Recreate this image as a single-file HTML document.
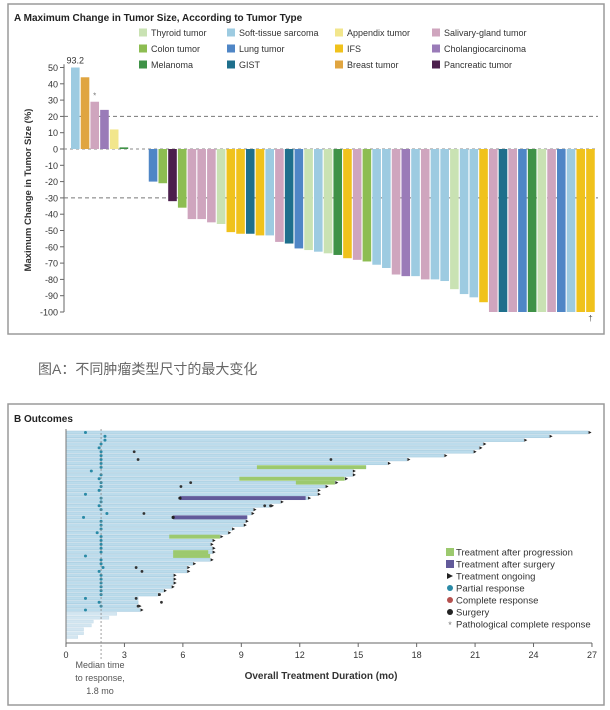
<!DOCTYPE html>
<html><head><meta charset="utf-8">
<style>
html,body{margin:0;padding:0;background:#fff;}
body{width:610px;height:710px;overflow:hidden;font-family:"Liberation Sans","Noto Sans CJK SC",sans-serif;}
svg{display:block;}
</style></head>
<body>
<svg id="chart" width="610" height="710" xmlns="http://www.w3.org/2000/svg" font-family="Liberation Sans, Noto Sans CJK SC, sans-serif">
  <rect x="8" y="4" width="596" height="330" fill="#fff" stroke="#9a9a9a" stroke-width="1.5"/>
  <text x="14" y="21" font-size="10" font-weight="bold" fill="#222">A  Maximum Change in Tumor Size, According to Tumor Type</text>
  <text transform="translate(31,190) rotate(-90)" text-anchor="middle" font-size="9.5" font-weight="bold" fill="#333">Maximum Change in Tumor Size (%)</text>
  <g id="gA"></g>
  <g id="legA"></g>
  <text x="38" y="374" font-size="14" fill="#666">图A：不同肿瘤类型尺寸的最大变化</text>
  <rect x="8" y="404" width="596" height="301" fill="#fff" stroke="#9a9a9a" stroke-width="1.5"/>
  <text x="14" y="422" font-size="10" font-weight="bold" fill="#222">B  Outcomes</text>
  <g id="gB"></g>
  <g id="legB"></g>
  <text x="321" y="679" text-anchor="middle" font-size="10" font-weight="bold" fill="#333">Overall Treatment Duration (mo)</text>
  <text x="100" y="668" text-anchor="middle" font-size="9" fill="#555"><tspan x="100">Median time</tspan><tspan x="100" dy="13">to response,</tspan><tspan x="100" dy="13">1.8 mo</tspan></text>
</svg>
<script>
// ---------- Panel A data ----------
const tumorTypes = ["thyroid","colon","melanoma","soft","lung","gist","appendix","ifs","breast","salivary","cholangio","pancreatic"];
const tumorLabels = ["Thyroid tumor","Colon tumor","Melanoma","Soft-tissue sarcoma","Lung tumor","GIST","Appendix tumor","IFS","Breast tumor","Salivary-gland tumor","Cholangiocarcinoma","Pancreatic tumor"];
const tumorColors = ["#c9e2b3","#8dbd52","#3f9247","#9dcbe1","#4f86c6","#1e6f8c","#f2e68c","#f0c21c","#e0a540","#cfa5be","#9a7bb8","#4b1f4c"];
const barTypes = ["soft","breast","salivary","cholangio","appendix","melanoma","thyroid","thyroid",
 "lung","colon","pancreatic","colon","salivary","salivary","salivary","thyroid","ifs","ifs","gist","ifs","soft","salivary","gist","lung","thyroid","soft","thyroid","melanoma","ifs","salivary","colon","soft","soft","salivary","cholangio","soft","salivary","soft","soft","thyroid","soft","soft","ifs","salivary","gist","salivary","lung","melanoma","thyroid","salivary","lung","soft","ifs","ifs"];
const barValues = [93.2,44,29,24,12,1,0,0,
 -20,-21,-32,-36,-43,-43,-45,-46,-51,-52,-52,-53,-53,-57,-58,-61,-62,-63,-64,-65,-67,-68,-69,-71,-73,-77,-78,-78,-80,-80,-81,-86,-89,-91,-94,-100,-100,-100,-100,-100,-100,-100,-100,-100,-100,-100];
const yTicks = [50,40,30,20,10,0,-10,-20,-30,-40,-50,-60,-70,-80,-90,-100];
const thresholds = [20,-30];

// ---------- Panel B data ----------
const durations = [26.8,24.8,23.5,21.4,21.2,20.9,19.4,17.5,16.5,15.4,14.7,14.7,14.3,13.8,13.3,12.9,12.9,12.4,11.0,10.5,9.6,9.5,9.3,9.2,9.1,8.5,8.3,7.9,7.5,7.4,7.5,7.5,7.3,7.4,6.5,6.2,6.2,5.5,5.5,5.5,5.4,5.0,4.7,3.7,3.7,3.7,3.8,2.6,2.2,1.4,1.3,0.9,0.9,0.6];
const responseTimes = [1.0,2.0,2.0,1.8,1.7,1.8,1.8,1.8,1.8,1.8,1.3,1.8,1.7,1.8,1.8,1.7,1.0,1.8,1.8,1.7,1.8,2.1,0.9,1.8,1.8,1.8,1.6,1.8,1.8,1.8,1.8,1.8,1.0,1.8,1.8,1.9,1.7,1.8,1.8,1.8,1.8,1.8,1.8,1.0,1.7,1.8,1.0,null,null,null,null,null,null,null];
const ongoing = [1,1,1,1,1,1,1,1,1,0,1,1,1,1,1,1,1,1,1,1,1,1,0,1,1,1,1,1,1,1,1,1,0,1,1,1,1,1,1,1,1,1,1,0,0,1,1,0,0,0,0,0,0,0];
const extraEventRows = [5,7,7,13,14,19,19,21,35,36,43,44,42,45];
const extraEventTimes = [3.5,3.7,13.6,6.4,5.9,10.2,10.5,4.0,3.6,3.9,3.6,4.9,4.8,3.7];
const progStart = [null,null,null,null,null,null,null,null,null,9.8,null,null,8.9,11.8,null,null,null,null,null,null,null,null,null,null,null,null,null,5.3,null,null,null,5.5,5.5];
const progEnd =   [null,null,null,null,null,null,null,null,null,15.4,null,null,14.3,13.8,null,null,null,null,null,null,null,null,null,null,null,null,null,7.9,null,null,null,7.3,7.4];
const surgStart = [null,null,null,null,null,null,null,null,null,null,null,null,null,null,null,null,null,5.85,null,null,null,null,5.5];
const surgEnd =   [null,null,null,null,null,null,null,null,null,null,null,null,null,null,null,null,null,12.3,null,null,null,null,9.3];
const xTicks = [0,3,6,9,12,15,18,21,24,27];
const medianResponse = 1.8;

const NS = "http://www.w3.org/2000/svg";
function mk(tag, attrs, parent){const e=document.createElementNS(NS,tag);for(const k in attrs)e.setAttribute(k,attrs[k]);parent.appendChild(e);return e;}
function colorOf(t){return tumorColors[tumorTypes.indexOf(t)];}

// ---- Panel A ----
const gA = document.getElementById('gA');
const yA = v => 149 - v*1.63;
const barX0 = 71, barPitch = 9.72, barW = 8.6;
for (let i=0;i<yTicks.length;i++){
  const t=yTicks[i], y=yA(t);
  const tk=mk('line',{x1:60,x2:64,y1:y,y2:y,stroke:'#666','stroke-width':1},gA);
  
  
  const tl=mk('text',{x:58,y:y+3.5,'text-anchor':'end','font-size':9,fill:'#333'},gA);
  tl.textContent=t;
  
  
}
const ax=mk('line',{x1:64,x2:64,y1:yA(52),y2:yA(-100),stroke:'#666','stroke-width':1},gA);


const zl=mk('line',{x1:64,x2:598,y1:yA(0),y2:yA(0),stroke:'#888','stroke-width':1,'stroke-dasharray':'3,3'},gA);


for (const th of thresholds){
  const l=mk('line',{x1:64,x2:598,y1:yA(th),y2:yA(th),stroke:'#777','stroke-width':1,'stroke-dasharray':'4,3'},gA);
  
  
}
for (let i=0;i<barValues.length;i++){
  const v=Math.max(-100,Math.min(50,barValues[i]));
  const x=barX0+i*barPitch;
  const y1=yA(Math.max(0,v)), y2=yA(Math.min(0,v));
  const h=y2-y1;
  const r=mk('rect',{x:x,y:y1,width:barW,height:h,fill:colorOf(barTypes[i])},gA);
  
  
}
const lab=mk('text',{x:barX0+barW/2,y:yA(50)-4,'text-anchor':'middle','font-size':9,fill:'#333'},gA);
lab.textContent=barValues[0];


const ast=mk('text',{x:barX0+2*barPitch+barW/2,y:yA(barValues[2])-3,'text-anchor':'middle','font-size':8,fill:'#777'},gA);
ast.textContent='*';


const dag=mk('text',{x:barX0+(barValues.length-1)*barPitch+barW/2,y:yA(-100)+9,'text-anchor':'middle','font-size':8,fill:'#555'},gA);
dag.textContent='†';



const legA=document.getElementById('legA');
const legCols=[139,227,335,432], legRows=[33,49,65];
for (let i=0;i<tumorTypes.length;i++){
  const c=Math.floor(i/3), r=i%3;
  const x=legCols[c], y=legRows[r];
  const sw=mk('rect',{x:x,y:y-4.5,width:8,height:8,fill:tumorColors[i]},legA);
  
  
  const t=mk('text',{x:x+12,y:y+3,'font-size':9,fill:'#333'},legA);
  t.textContent=tumorLabels[i];
  
  
}

// ---- Panel B ----
const gB=document.getElementById('gB');
const xB = m => 66 + m*19.48;
const rowY0=431, rowPitch=3.86, rowH=2.9;
for (let i=0;i<durations.length;i++){
  const y=rowY0+i*rowPitch;
  const light = i>=47;
  const r=mk('rect',{x:xB(0),y:y,width:xB(durations[i])-xB(0),height:rowH,fill:light?'#d3e6f1':'#bcdcec',stroke:light?'#c5dbe8':'#a3c8dc','stroke-width':0.5},gB);
  
  
}
for (let i=0;i<progStart.length;i++){
  if(progStart[i]==null)continue;
  const y=rowY0+i*rowPitch;
  const r=mk('rect',{x:xB(progStart[i]),y:y-0.5,width:xB(progEnd[i])-xB(progStart[i]),height:rowH+1,fill:'#9cc96e'},gB);
  
  
}
for (let i=0;i<surgStart.length;i++){
  if(surgStart[i]==null)continue;
  const y=rowY0+i*rowPitch;
  const r=mk('rect',{x:xB(surgStart[i]),y:y-0.5,width:xB(surgEnd[i])-xB(surgStart[i]),height:rowH+1,fill:'#625a9a'},gB);
  
  
  const d=mk('circle',{cx:xB(surgStart[i]),cy:y+rowH/2,r:1.6,fill:'#222'},gB);
  
  
}
for (let i=0;i<durations.length;i++){
  const y=rowY0+i*rowPitch+rowH/2;
  if(responseTimes[i]!=null){
    const c=mk('circle',{cx:xB(responseTimes[i]),cy:y,r:1.5,fill:'#2a8aa6'},gB);
    
    
  }
  if(ongoing[i]){
    const x=xB(durations[i])+0.5;
    const p=mk('polygon',{points:`${x},${y-1.6} ${x+3},${y} ${x},${y+1.6}`,fill:'#222'},gB);
    
    
  }
}
for (let k=0;k<extraEventRows.length;k++){
  const y=rowY0+extraEventRows[k]*rowPitch+rowH/2;
  const c=mk('circle',{cx:xB(extraEventTimes[k]),cy:y,r:1.4,fill:'#333'},gB);
  
  
}
const yax=mk('line',{x1:66,x2:66,y1:429,y2:643,stroke:'#777','stroke-width':1},gB);


const xax=mk('line',{x1:66,x2:592,y1:643,y2:643,stroke:'#666','stroke-width':1},gB);


for (const t of xTicks){
  const x=xB(t);
  const tk=mk('line',{x1:x,x2:x,y1:643,y2:647,stroke:'#666','stroke-width':1},gB);
  
  
  const tl=mk('text',{x:x,y:658,'text-anchor':'middle','font-size':9,fill:'#333'},gB);
  tl.textContent=t;
  
  
}
const med=mk('line',{x1:xB(medianResponse),x2:xB(medianResponse),y1:429,y2:660,stroke:'#888','stroke-width':0.8,'stroke-dasharray':'2,2'},gB);



const legB=document.getElementById('legB');
const legBLabels=["Treatment after progression","Treatment after surgery","Treatment ongoing","Partial response","Complete response","Surgery","Pathological complete response"];
const legBY=[552,564,576,588,600,612,624];
for(let i=0;i<legBLabels.length;i++){
  const y=legBY[i], x=447;
  let s;
  if(i===0) s=mk('rect',{x:x-1,y:y-4,width:8,height:8,fill:'#9cc96e'},legB);
  else if(i===1) s=mk('rect',{x:x-1,y:y-4,width:8,height:8,fill:'#625a9a'},legB);
  else if(i===2) s=mk('polygon',{points:`${x},${y-3} ${x+6},${y} ${x},${y+3}`,fill:'#222'},legB);
  else if(i===3) s=mk('circle',{cx:x+3,cy:y,r:3,fill:'#2a8aa6'},legB);
  else if(i===4) s=mk('circle',{cx:x+3,cy:y,r:3,fill:'#b5514f'},legB);
  else if(i===5) s=mk('circle',{cx:x+3,cy:y,r:3,fill:'#222'},legB);
  else { s=mk('text',{x:x+3,y:y+4,'text-anchor':'middle','font-size':9,fill:'#777'},legB); s.textContent='*'; }
  
  
  const t=mk('text',{x:456,y:y+3.5,'font-size':9.5,fill:'#333'},legB);
  t.textContent=legBLabels[i];
  
  
}
</script>
</body></html>
